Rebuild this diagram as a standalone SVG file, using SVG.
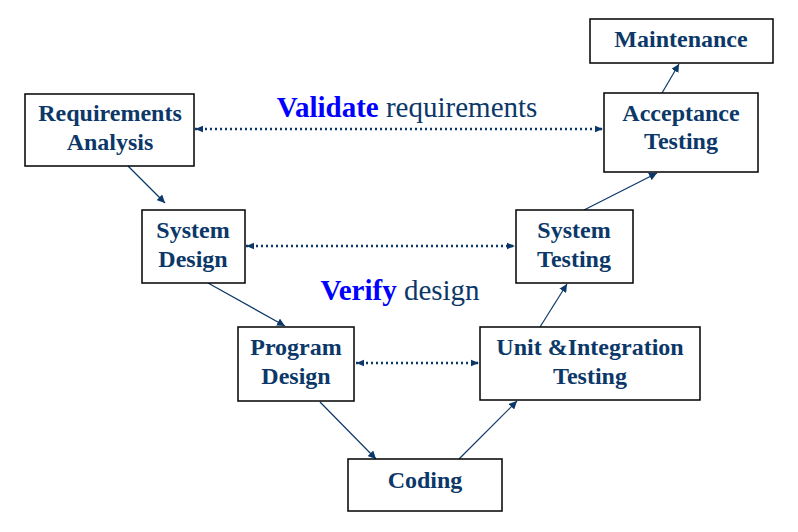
<svg xmlns="http://www.w3.org/2000/svg" width="798" height="532" viewBox="0 0 798 532">
  <style>
    .box { fill: #ffffff; stroke: #000000; stroke-width: 1.5; }
    .lbl { font-size: 24px; font-weight: bold; fill: #0b3868; text-anchor: middle; }
    .cap { font-size: 29px; fill: #0b3868; text-anchor: middle; }
    .em { font-weight: bold; fill: #0000ff; }
    .flow { stroke: #0b3868; stroke-width: 1.2; fill: none; marker-end: url(#head); }
    .dot { stroke: #0b3868; stroke-width: 2.5; stroke-dasharray: 2 3; fill: none; marker-start: url(#dhead); marker-end: url(#dhead); }
  </style>
  <defs>
    <marker id="head" viewBox="0 0 10 10" refX="10" refY="5" markerWidth="8" markerHeight="8" markerUnits="userSpaceOnUse" orient="auto-start-reverse">
      <path d="M0,0 L10,5 L0,10 z" fill="#0b3868"/>
    </marker>
    <marker id="dhead" viewBox="0 0 10 10" refX="10" refY="5" markerWidth="8" markerHeight="8" markerUnits="userSpaceOnUse" orient="auto-start-reverse">
      <path d="M0,1 L10,5 L0,9 z" fill="#0b3868"/>
    </marker>
  </defs>

  <rect width="798" height="532" fill="#ffffff"/>

  <!-- connectors -->
  <g id="connectors">
    <line class="flow" x1="128" y1="166" x2="165" y2="203"/>
    <line class="flow" x1="208" y1="283" x2="285" y2="326"/>
    <line class="flow" x1="320" y1="402" x2="376" y2="459"/>
    <line class="flow" x1="459" y1="459" x2="517" y2="401"/>
    <line class="flow" x1="540" y1="327" x2="567" y2="284"/>
    <line class="flow" x1="584" y1="210" x2="657" y2="173"/>
    <line class="flow" x1="662" y1="93" x2="679" y2="64"/>
    <line class="dot" x1="195" y1="129" x2="603" y2="129"/>
    <line class="dot" x1="246" y1="246" x2="515" y2="246"/>
    <line class="dot" x1="356" y1="363" x2="479" y2="363"/>
  </g>

  <g font-family="Liberation Serif, Times New Roman, serif">
    <!-- captions -->
    <text class="cap" x="407" y="117"><tspan class="em">Validate</tspan> requirements</text>
    <text class="cap" x="400" y="300"><tspan class="em">Verify</tspan> design</text>

    <!-- nodes -->
    <g id="requirements-analysis">
      <rect class="box" x="25" y="94" width="169" height="72"/>
      <text class="lbl" x="110" y="121">Requirements</text>
      <text class="lbl" x="110" y="150">Analysis</text>
    </g>
    <g id="system-design">
      <rect class="box" x="142" y="210" width="103" height="73"/>
      <text class="lbl" x="193" y="238">System</text>
      <text class="lbl" x="193" y="267">Design</text>
    </g>
    <g id="program-design">
      <rect class="box" x="238" y="327" width="116" height="74"/>
      <text class="lbl" x="296" y="355">Program</text>
      <text class="lbl" x="296" y="384">Design</text>
    </g>
    <g id="coding">
      <rect class="box" x="348" y="459" width="154" height="52"/>
      <text class="lbl" x="425" y="488">Coding</text>
    </g>
    <g id="unit-integration-testing">
      <rect class="box" x="480" y="327" width="220" height="73"/>
      <text class="lbl" x="590" y="355">Unit &amp;Integration</text>
      <text class="lbl" x="590" y="384">Testing</text>
    </g>
    <g id="system-testing">
      <rect class="box" x="516" y="210" width="117" height="73"/>
      <text class="lbl" x="574" y="238">System</text>
      <text class="lbl" x="574" y="267">Testing</text>
    </g>
    <g id="acceptance-testing">
      <rect class="box" x="604" y="93" width="154" height="79"/>
      <text class="lbl" x="681" y="121">Acceptance</text>
      <text class="lbl" x="681" y="149">Testing</text>
    </g>
    <g id="maintenance">
      <rect class="box" x="590" y="19" width="183" height="44"/>
      <text class="lbl" x="681" y="47">Maintenance</text>
    </g>
  </g>
</svg>
